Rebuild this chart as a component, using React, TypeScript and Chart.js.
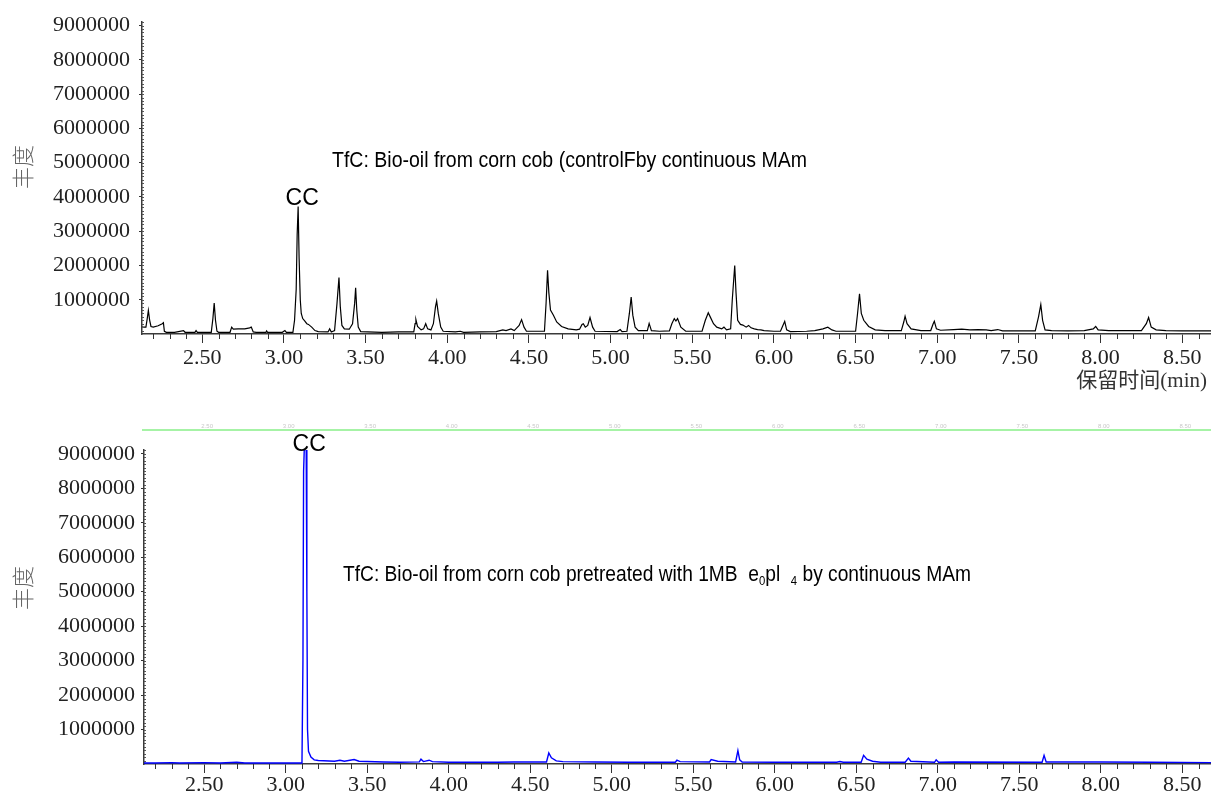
import React, { useEffect, useRef } from "react";
import { Chart, registerables } from "chart.js";

Chart.register(...registerables);

// ---------- data ----------
const xTickLabels = ["2.50", "3.00", "3.50", "4.00", "4.50", "5.00", "5.50", "6.00", "6.50", "7.00", "7.50", "8.00", "8.50"];
const yTickValues = [1000000, 2000000, 3000000, 4000000, 5000000, 6000000, 7000000, 8000000, 9000000];

const xMin = 2.131;
const xMax = 8.676;
const topYMax = 9100000;
const bottomYMax = 9110000;

// top chromatogram (control), abundance in millions
const topTimes = [
  2.131, 2.155, 2.163, 2.17, 2.178, 2.186, 2.2, 2.23, 2.255, 2.262, 2.268, 2.28, 2.33, 2.385, 2.395, 2.455, 2.462, 2.47,
  2.555, 2.565, 2.573, 2.581, 2.59, 2.6, 2.67, 2.68, 2.69, 2.72, 2.76, 2.79, 2.8, 2.812, 2.83, 2.89, 2.894, 2.9, 2.99,
  3.006, 3.015, 3.055, 3.065, 3.075, 3.081, 3.087, 3.093, 3.1, 3.106, 3.115, 3.127, 3.14, 3.15, 3.17, 3.19, 3.21, 3.27,
  3.28, 3.29, 3.31, 3.325, 3.337, 3.345, 3.355, 3.37, 3.4, 3.42, 3.433, 3.439, 3.446, 3.455, 3.47, 3.6, 3.7, 3.795,
  3.803, 3.808, 3.818, 3.84, 3.855, 3.868, 3.88, 3.9, 3.915, 3.928, 3.935, 3.945, 3.96, 3.975, 4.05, 4.08, 4.1, 4.2,
  4.3, 4.34, 4.36, 4.39, 4.41, 4.44, 4.455, 4.47, 4.485, 4.595, 4.605, 4.614, 4.622, 4.632, 4.65, 4.67, 4.7, 4.74,
  4.79, 4.81, 4.825, 4.833, 4.845, 4.86, 4.874, 4.89, 4.905, 5.04, 5.059, 5.07, 5.1, 5.115, 5.126, 5.136, 5.15, 5.17,
  5.225, 5.236, 5.25, 5.3, 5.36, 5.375, 5.39, 5.4, 5.41, 5.43, 5.46, 5.56, 5.58, 5.598, 5.61, 5.63, 5.65, 5.68, 5.694,
  5.71, 5.735, 5.745, 5.76, 5.768, 5.778, 5.795, 5.81, 5.83, 5.845, 5.86, 5.88, 5.9, 5.92, 5.94, 6.0, 6.04, 6.055,
  6.066, 6.078, 6.1, 6.2, 6.25, 6.3, 6.33, 6.355, 6.38, 6.46, 6.5, 6.512, 6.524, 6.535, 6.55, 6.58, 6.62, 6.68, 6.78,
  6.795, 6.803, 6.815, 6.84, 6.9, 6.96, 6.975, 6.982, 6.995, 7.02, 7.1, 7.15, 7.2, 7.25, 7.3, 7.33, 7.37, 7.4, 7.5,
  7.6, 7.62, 7.634, 7.645, 7.66, 7.7, 7.8, 7.9, 7.955, 7.97, 7.985, 8.05, 8.15, 8.25, 8.28, 8.294, 8.31, 8.34, 8.4,
  8.5, 8.6, 8.676,
];
const topAbundanceMillions = [
  0.2, 0.2, 0.45, 0.69, 0.4, 0.22, 0.2, 0.24, 0.3, 0.33, 0.08, 0.05, 0.05, 0.1, 0.05, 0.05, 0.1, 0.05,
  0.05, 0.45, 0.9, 0.4, 0.08, 0.05, 0.05, 0.2, 0.14, 0.15, 0.15, 0.18, 0.2, 0.06, 0.05, 0.05, 0.09, 0.05, 0.05,
  0.1, 0.05, 0.05, 0.4, 1.3, 2.9, 3.72, 2.2, 1.0, 0.6, 0.45, 0.38, 0.3, 0.28, 0.2, 0.1, 0.07, 0.06,
  0.15, 0.06, 0.1, 0.9, 1.65, 0.8, 0.25, 0.15, 0.14, 0.3, 0.9, 1.35, 0.7, 0.2, 0.07, 0.05, 0.06, 0.06,
  0.3, 0.42, 0.22, 0.12, 0.15, 0.3, 0.15, 0.12, 0.3, 0.8, 0.96, 0.6, 0.2, 0.08, 0.06, 0.08, 0.05, 0.06,
  0.07, 0.12, 0.1, 0.15, 0.1, 0.25, 0.42, 0.2, 0.08, 0.08, 0.9, 1.86, 1.2, 0.7, 0.55, 0.35, 0.22, 0.15,
  0.12, 0.14, 0.28, 0.3, 0.2, 0.25, 0.48, 0.2, 0.08, 0.07, 0.13, 0.07, 0.08, 0.6, 1.08, 0.55, 0.2, 0.1,
  0.1, 0.31, 0.1, 0.08, 0.09, 0.3, 0.45, 0.38, 0.45, 0.2, 0.08, 0.08, 0.4, 0.62, 0.5, 0.3, 0.2, 0.15, 0.2,
  0.12, 0.15, 1.0, 2.0, 1.2, 0.4, 0.28, 0.26, 0.2, 0.25, 0.18, 0.15, 0.13, 0.12, 0.1, 0.08, 0.08, 0.25,
  0.37, 0.12, 0.07, 0.08, 0.1, 0.15, 0.2, 0.12, 0.08, 0.08, 0.08, 0.6, 1.17, 0.6, 0.4, 0.22, 0.12, 0.1, 0.1,
  0.35, 0.52, 0.3, 0.15, 0.1, 0.1, 0.3, 0.37, 0.15, 0.11, 0.13, 0.14, 0.12, 0.13, 0.12, 0.1, 0.13, 0.09, 0.09,
  0.09, 0.5, 0.86, 0.4, 0.12, 0.1, 0.09, 0.1, 0.15, 0.22, 0.12, 0.1, 0.1, 0.1, 0.3, 0.48, 0.2, 0.12, 0.1,
  0.09, 0.09, 0.09,
];

// bottom chromatogram (pretreated), abundance in millions
const bottomTimes = [
  2.131, 2.2, 2.3, 2.35, 2.5, 2.6, 2.7, 2.75, 3.0, 3.1, 3.106, 3.11, 3.114, 3.126, 3.13, 3.134, 3.14, 3.155, 3.175,
  3.2, 3.3, 3.333, 3.36, 3.42, 3.45, 3.6, 3.7, 3.82, 3.83, 3.845, 3.88, 3.9, 4.0, 4.3, 4.4, 4.6, 4.614, 4.63, 4.66,
  4.7, 4.9, 5.1, 5.39, 5.4, 5.42, 5.6, 5.61, 5.65, 5.76, 5.774, 5.785, 5.8, 6.0, 6.2, 6.38, 6.4, 6.42, 6.53, 6.545,
  6.565, 6.6, 6.65, 6.8, 6.82, 6.835, 6.98, 6.99, 7.005, 7.1, 7.64, 7.652, 7.665, 8.0, 8.3, 8.676,
];
const bottomAbundanceMillions = [
  0.03, 0.03, 0.04, 0.03, 0.04, 0.03, 0.05, 0.03, 0.03, 0.03, 3.0, 8.5, 9.12, 9.12, 5.0, 1.0, 0.37, 0.2, 0.12,
  0.1, 0.08, 0.11, 0.08, 0.13, 0.08, 0.06, 0.05, 0.06, 0.14, 0.07, 0.11, 0.07, 0.05, 0.05, 0.06, 0.06, 0.32, 0.18, 0.09,
  0.07, 0.06, 0.05, 0.05, 0.11, 0.07, 0.06, 0.13, 0.08, 0.06, 0.39, 0.12, 0.06, 0.05, 0.05, 0.05, 0.07, 0.05, 0.05, 0.25,
  0.14, 0.08, 0.05, 0.05, 0.17, 0.08, 0.05, 0.12, 0.05, 0.06, 0.05, 0.25, 0.06, 0.06, 0.05, 0.04,
];

const topPeakLabel = "CC";
const topPeakTime = 3.087;
const bottomPeakTime = 3.12;
const yTitle = "丰度";
const xTitle = "保留时间(min)";
const topNote = [{ t: "TfC: Bio-oil from corn cob (controlFby continuous MAm" }];
const bottomNote = [
  { t: "TfC: Bio-oil from corn cob pretreated with 1MB  e" },
  { t: "0", sub: true },
  { t: "pl  " },
  { t: "4", sub: true },
  { t: " by continuous MAm" },
];

// ---------- helpers ----------
const SERIF = "'Liberation Serif', 'Times New Roman', serif";
const SANS = "'Liberation Sans', Arial, sans-serif";
const CJK = "'Noto Sans CJK SC', 'Noto Sans', sans-serif";

function drawSegments(ctx: CanvasRenderingContext2D, segs: any[], x: number, baseline: number, width: number) {
  const font = `22px ${SANS}`;
  const subFont = `13px ${SANS}`;
  let w = 0;
  for (const s of segs) {
    ctx.font = s.sub ? subFont : font;
    w += ctx.measureText(s.t).width;
  }
  const k = width / w;
  ctx.save();
  ctx.translate(x, baseline);
  ctx.scale(k, 1);
  ctx.fillStyle = "#000";
  ctx.textBaseline = "alphabetic";
  ctx.textAlign = "left";
  let cx = 0;
  for (const s of segs) {
    ctx.font = s.sub ? subFont : font;
    ctx.fillText(s.t, cx, s.sub ? 4 : 0);
    cx += ctx.measureText(s.t).width;
  }
  ctx.restore();
}

const decorPlugin = {
  id: "decor",
  afterDraw(chart: any, _args: any, opts: any) {
    const ctx: CanvasRenderingContext2D = chart.ctx;
    const xs = chart.scales.x;
    const ys = chart.scales.y;
    const ca = chart.chartArea;
    ctx.save();
    // minor x ticks (every 0.1 min)
    ctx.strokeStyle = "#333";
    ctx.lineWidth = 1;
    for (let k = Math.ceil(xs.min * 10); k <= Math.floor(xs.max * 10); k++) {
      if (k % 5 === 0) continue;
      const px = Math.round(xs.getPixelForValue(k / 10)) + 0.5;
      ctx.beginPath();
      ctx.moveTo(px, ca.bottom);
      ctx.lineTo(px, ca.bottom + 5);
      ctx.stroke();
    }
    // minor y ticks (every 100000)
    ctx.strokeStyle = "#555";
    for (let k = 1; k * 100000 <= ys.max; k++) {
      const py = Math.round(ys.getPixelForValue(k * 100000)) + 0.5;
      ctx.beginPath();
      ctx.moveTo(ca.left, py);
      ctx.lineTo(ca.left + 2, py);
      ctx.stroke();
    }
    // y title
    ctx.save();
    ctx.translate(23, opts.yTitleY);
    ctx.rotate(-Math.PI / 2);
    ctx.font = `300 22px ${CJK}`;
    ctx.fillStyle = "#666";
    ctx.textAlign = "center";
    ctx.textBaseline = "middle";
    ctx.fillText(yTitle, 0, 0);
    ctx.restore();
    // x title
    if (opts.showXTitle) {
      ctx.font = `21px ${SERIF}, ${CJK}`;
      ctx.fillStyle = "#333";
      ctx.textAlign = "right";
      ctx.textBaseline = "middle";
      ctx.fillText(xTitle, 1207, opts.xTitleY);
    }
    // peak label
    ctx.font = `23px ${SANS}`;
    ctx.fillStyle = "#000";
    ctx.textAlign = "center";
    ctx.textBaseline = "alphabetic";
    const px = xs.getPixelForValue(opts.peakTime) + opts.peakDx;
    const py = opts.peakBaseline;
    ctx.fillText(topPeakLabel, px, py);
    // note
    drawSegments(ctx, opts.note, opts.noteX, opts.noteY, opts.noteW);
    // green separator with faint labels
    if (opts.greenY !== undefined) {
      ctx.strokeStyle = "#a6f3a6";
      ctx.lineWidth = 2;
      ctx.beginPath();
      ctx.moveTo(142, opts.greenY);
      ctx.lineTo(1211, opts.greenY);
      ctx.stroke();
      ctx.font = `6px ${SANS}`;
      ctx.fillStyle = "#c8c8c8";
      ctx.textAlign = "center";
      ctx.textBaseline = "alphabetic";
      for (const l of xTickLabels) {
        ctx.fillText(l, xs.getPixelForValue(parseFloat(l)) + 3, opts.greenY - 2);
      }
    }
    ctx.restore();
  },
};

function makeConfig(opts: {
  times: number[];
  values: number[];
  color: string;
  lineWidth: number;
  yMax: number;
  padTop: number;
  yWidth: number;
  xHeight: number;
  yPad: number;
  xPad: number;
  decor: any;
}) {
  return {
    type: "line" as const,
    data: {
      datasets: [
        {
          data: opts.times.map((t, i) => ({ x: t, y: opts.values[i] * 1000000 })),
          borderColor: opts.color,
          borderWidth: opts.lineWidth,
          pointRadius: 0,
          tension: 0,
          fill: false,
        },
      ],
    },
    options: {
      animation: false,
      responsive: false,
      events: [],
      layout: { padding: { top: opts.padTop, left: 0, right: 0, bottom: 0 } },
      plugins: {
        legend: { display: false },
        tooltip: { enabled: false },
        decor: opts.decor,
      },
      scales: {
        x: {
          type: "linear",
          min: xMin,
          max: xMax,
          afterFit: (s: any) => {
            s.height = opts.xHeight;
          },
          afterBuildTicks: (s: any) => {
            s.ticks = xTickLabels.map((l) => ({ value: parseFloat(l) }));
          },
          ticks: {
            autoSkip: false,
            maxRotation: 0,
            padding: opts.xPad,
            color: "#222",
            font: { family: SERIF, size: 22 },
            callback: (_v: any, i: number) => xTickLabels[i],
          },
          grid: { display: true, drawOnChartArea: false, drawTicks: true, tickLength: 9, color: "#333", tickWidth: 1 },
          border: { display: true, color: "#3a3a3a", width: 1.5 },
        },
        y: {
          type: "linear",
          min: 0,
          max: opts.yMax,
          afterFit: (s: any) => {
            s.width = opts.yWidth;
          },
          afterBuildTicks: (s: any) => {
            s.ticks = yTickValues.map((v) => ({ value: v }));
          },
          ticks: {
            padding: opts.yPad,
            color: "#222",
            font: { family: SERIF, size: 22 },
            callback: (v: any) => String(v),
          },
          grid: { display: true, drawOnChartArea: false, drawTicks: true, tickLength: 3, color: "#333", tickWidth: 1 },
          border: { display: true, color: "#3a3a3a", width: 1.5 },
        },
      },
    },
    plugins: [decorPlugin],
  };
}

export default function App() {
  const topRef = useRef<HTMLCanvasElement>(null);
  const botRef = useRef<HTMLCanvasElement>(null);

  useEffect(() => {
    const c1 = new Chart(
      topRef.current as HTMLCanvasElement,
      makeConfig({
        times: topTimes,
        values: topAbundanceMillions,
        color: "#000",
        lineWidth: 1.2,
        yMax: topYMax,
        padTop: 18,
        yWidth: 142,
        xHeight: 66,
        yPad: 9,
        xPad: 2,
        decor: {
          yTitleY: 167,
          showXTitle: true,
          xTitleY: 381,
          peakTime: topPeakTime,
          peakDx: 4,
          peakBaseline: 205,
          note: topNote,
          noteX: 332,
          noteY: 167,
          noteW: 475,
        },
      }) as any
    );
    const c2 = new Chart(
      botRef.current as HTMLCanvasElement,
      makeConfig({
        times: bottomTimes,
        values: bottomAbundanceMillions,
        color: "#0000ff",
        lineWidth: 1.4,
        yMax: bottomYMax,
        padTop: 50,
        yWidth: 144,
        xHeight: 29,
        yPad: 6,
        xPad: -1,
        decor: {
          yTitleY: 188,
          showXTitle: false,
          peakTime: bottomPeakTime,
          peakDx: 4,
          peakBaseline: 51,
          note: bottomNote,
          noteX: 343,
          noteY: 181,
          noteW: 628,
          greenY: 30,
        },
      }) as any
    );
    return () => {
      c1.destroy();
      c2.destroy();
    };
  }, []);

  return (
    <div style={{ position: "fixed", left: 0, top: 0, width: 1211, height: 793, background: "#fff", overflow: "hidden" }}>
      <canvas ref={topRef} width={1211} height={400} style={{ position: "absolute", left: 0, top: 0, width: 1211, height: 400 }} />
      <canvas ref={botRef} width={1211} height={393} style={{ position: "absolute", left: 0, top: 400, width: 1211, height: 393 }} />
    </div>
  );
}
